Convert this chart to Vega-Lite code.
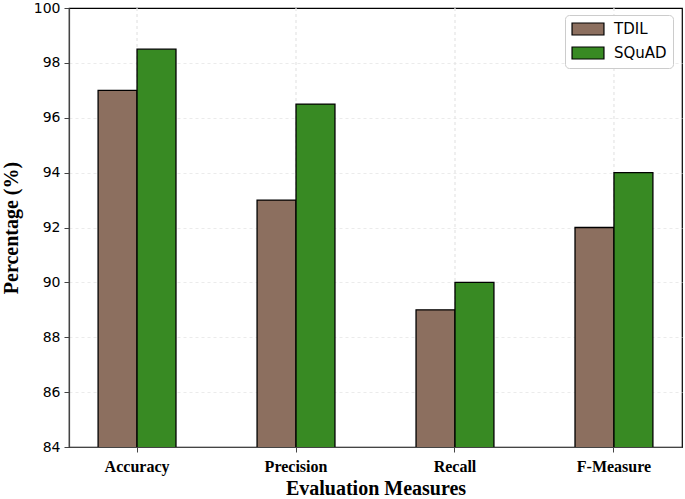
{
  "$schema": "https://vega.github.io/schema/vega-lite/v6.json",
  "width": 613,
  "height": 439,
  "autosize": {"type": "none"},
  "padding": {"left": 69, "top": 8, "right": 3, "bottom": 52},
  "background": "white",
  "data": {"values": [
    {"measure": "Accuracy", "dataset": "TDIL", "value": 97},
    {"measure": "Accuracy", "dataset": "SQuAD", "value": 98.5},
    {"measure": "Precision", "dataset": "TDIL", "value": 93},
    {"measure": "Precision", "dataset": "SQuAD", "value": 96.5},
    {"measure": "Recall", "dataset": "TDIL", "value": 89},
    {"measure": "Recall", "dataset": "SQuAD", "value": 90},
    {"measure": "F-Measure", "dataset": "TDIL", "value": 92},
    {"measure": "F-Measure", "dataset": "SQuAD", "value": 94}
  ]},
  "encoding": {
    "x": {
      "field": "measure", "type": "nominal",
      "sort": ["Accuracy", "Precision", "Recall", "F-Measure"],
      "scale": {"paddingInner": 0.51, "paddingOuter": 0.183},
      "axis": {
        "title": "Evaluation Measures",
        "labelAngle": 0,
        "labelFont": "Liberation Serif", "labelFontWeight": "bold", "labelFontSize": 16, "labelColor": "black",
        "labelPadding": 6,
        "titleFont": "Liberation Serif", "titleFontWeight": "bold", "titleFontSize": 20, "titleColor": "black",
        "titlePadding": 4,
        "grid": false,
        "domainColor": "#444", "domainWidth": 1.2,
        "tickColor": "#444", "tickSize": 5, "bandPosition": 0.5
      }
    }
  },
  "layer": [
    {
      "mark": {"type": "rule", "strokeDash": [3, 3], "color": "#e6e6e6", "strokeWidth": 0.8},
      "encoding": {}
    },
    {
      "mark": {"type": "bar", "stroke": "black", "strokeWidth": 1.3, "clip": true},
      "encoding": {
        "xOffset": {"field": "dataset", "type": "nominal", "sort": ["TDIL", "SQuAD"], "scale": {"paddingInner": 0, "paddingOuter": 0}},
        "y": {
          "field": "value", "type": "quantitative",
          "scale": {"domain": [84, 100], "zero": false, "nice": false},
          "axis": {
            "title": "Percentage (%)",
            "values": [84, 86, 88, 90, 92, 94, 96, 98, 100],
            "labelFont": "DejaVu Sans", "labelFontSize": 14, "labelColor": "black", "labelPadding": 4,
            "titleFont": "Liberation Serif", "titleFontWeight": "bold", "titleFontSize": 20, "titleColor": "black",
            "titlePadding": 12,
            "grid": true, "gridDash": [3, 3], "gridColor": "#e6e6e6", "gridWidth": 0.8,
            "gridOpacity": {"condition": {"test": "datum.value === 100 || datum.value === 84", "value": 0}, "value": 1},
            "domainColor": "#444", "domainWidth": 1.2,
            "tickColor": "#444", "tickSize": 5
          }
        },
        "color": {
          "field": "dataset", "type": "nominal",
          "sort": ["TDIL", "SQuAD"],
          "scale": {"domain": ["TDIL", "SQuAD"], "range": ["#8c6f5f", "#388a23"]},
          "legend": {
            "title": null,
            "orient": "none", "legendX": 496, "legendY": 7,
            "symbolType": "M-2.28,-0.86H2.28V0.86H-2.28Z", "symbolSize": 196, "symbolStrokeColor": "black", "symbolStrokeWidth": 1.2,
            "symbolOpacity": 1, "symbolOffset": 9,
            "labelFont": "DejaVu Sans", "labelFontSize": 15, "labelColor": "black", "labelOffset": 18,
            "rowPadding": 6,
            "padding": 6,
            "offset": 0,
            "strokeColor": "#cccccc", "fillColor": "white", "cornerRadius": 4
          }
        }
      }
    }
  ],
  "config": {
    "view": {"stroke": "black", "strokeWidth": 1.2},
    "axis": {"zindex": 0}
  }
}
